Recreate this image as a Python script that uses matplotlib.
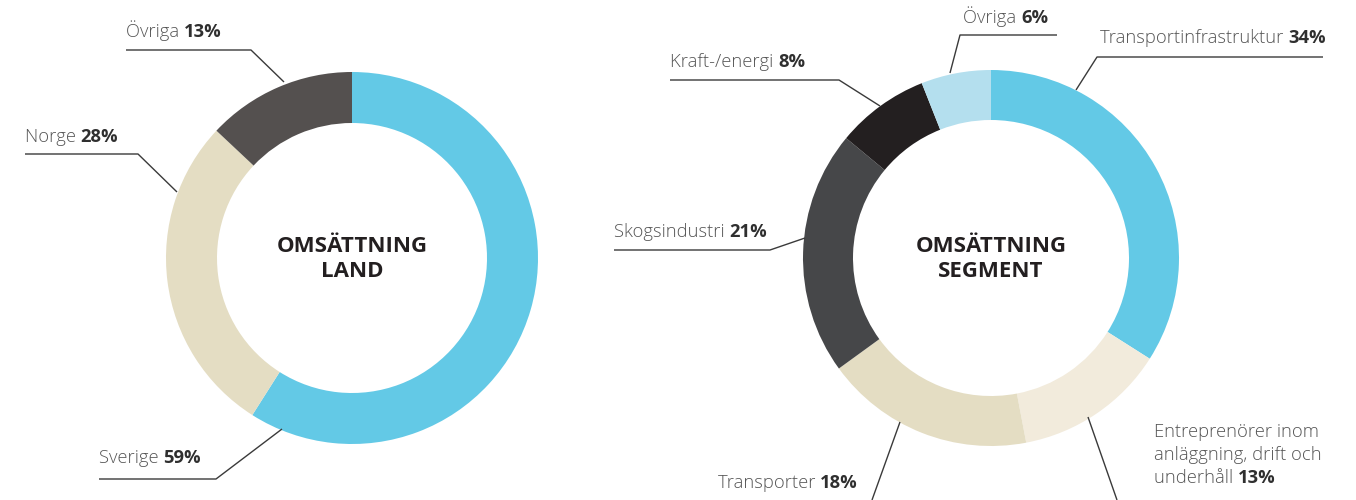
import matplotlib.pyplot as plt

W, H = 1356, 500

# data
land_labels = ['Sverige', 'Norge', 'Övriga']
land_values = [59, 28, 13]
land_colors = ['#63c9e6', '#e4ddc3', '#54504f']

seg_labels = ['Transportinfrastruktur', 'Entreprenörer inom\nanläggning, drift och\nunderhåll',
              'Transporter', 'Skogsindustri', 'Kraft-/energi', 'Övriga']
seg_values = [34, 13, 18, 21, 8, 6]
seg_colors = ['#63c9e6', '#f2ebdc', '#e4ddc3', '#464749', '#231f20', '#b4dfee']

FONT = 'Open Sans'
NAME_COL = '#555555'
VAL_COL = '#2f2f2f'
LINE_COL = '#3a3a3a'
FS = 13.2

fig = plt.figure(figsize=(W / 100, H / 100), dpi=100)
ax = fig.add_axes([0, 0, 1, 1])


def Y(y):
    return H - y


def donut(cx, cy, r, w, values, colors, title):
    ax.pie(values, colors=colors, startangle=90, counterclock=False,
           center=(cx, Y(cy)), radius=r, frame=True,
           wedgeprops=dict(width=w, linewidth=0))
    ax.text(cx, Y(cy + 1), title, ha='center', va='center', fontsize=16,
            fontweight='bold', color='#231f20', family=FONT, linespacing=1.25)


def label(x, y, name, value, line=None):
    lines = name.split('\n')
    for i, ln in enumerate(lines):
        t = ax.text(x, Y(y + i * 23), ln + (' ' if i == len(lines) - 1 else ''),
                    fontsize=FS, color=NAME_COL, family=FONT, fontweight='light',
                    va='baseline', ha='left')
    ax.annotate(f'{value}%', xy=(1, 0), xycoords=t, va='bottom', ha='left',
                fontsize=FS, color=VAL_COL, family=FONT, fontweight='bold')
    if line is not None:
        xs = [p[0] for p in line]
        ys = [Y(p[1]) for p in line]
        ax.plot(xs, ys, color=LINE_COL, lw=1.0, solid_capstyle='butt')


donut(352, 258, 186, 51, land_values, land_colors, 'OMSÄTTNING\nLAND')
donut(991, 258, 188, 50, seg_values, seg_colors, 'OMSÄTTNING\nSEGMENT')

# left labels
label(99, 463, land_labels[0], land_values[0], [(99, 479), (216, 479), (282, 429)])
label(25, 142, land_labels[1], land_values[1], [(25, 154), (138, 154), (177, 192)])
label(126, 37, land_labels[2], land_values[2], [(126, 50), (251, 50), (284, 82)])

# right labels
label(1100, 43, seg_labels[0], seg_values[0], [(1323, 57), (1097, 57), (1076, 90)])
label(1154, 437, seg_labels[1], seg_values[1], [(1088, 417), (1117, 500)])
label(718, 488, seg_labels[2], seg_values[2], [(900, 422), (872, 500)])
label(614, 237, seg_labels[3], seg_values[3], [(614, 250), (770, 250), (805, 238)])
label(670, 67, seg_labels[4], seg_values[4], [(670, 80), (839, 80), (880, 106)])
label(963, 23, seg_labels[5], seg_values[5], [(1057, 35), (960, 35), (950, 73)])

ax.set_xlim(0, W)
ax.set_ylim(0, H)
ax.set_aspect('auto')
ax.axis('off')

fig.savefig('out.png', dpi=100, facecolor='white')
